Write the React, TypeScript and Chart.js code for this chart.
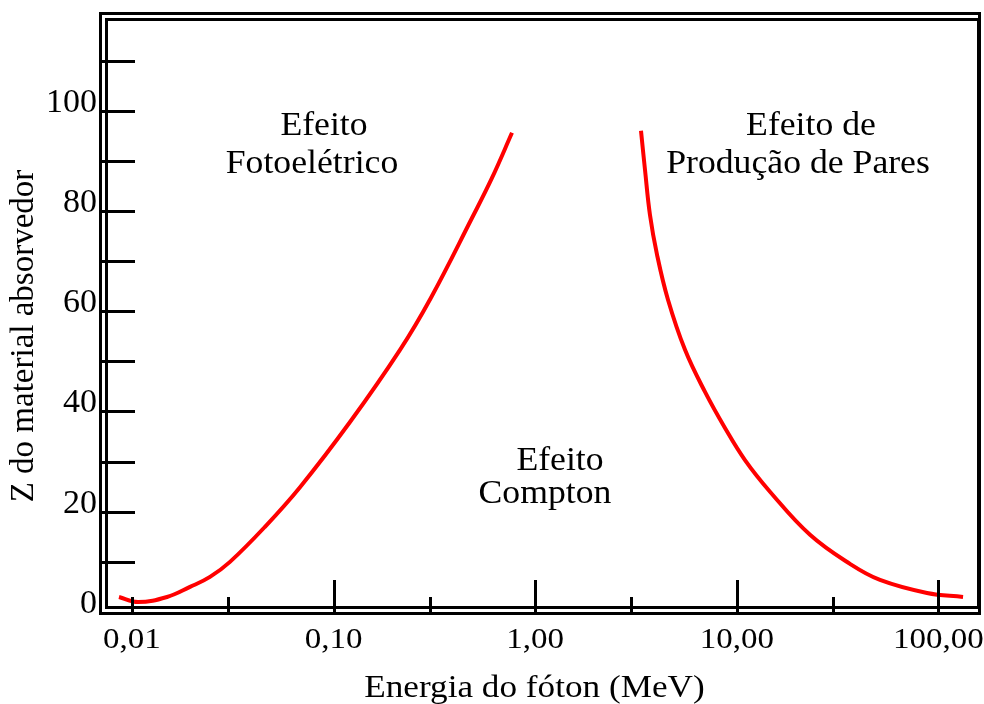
import React, { useEffect, useRef } from "react";
import { Chart, registerables } from "chart.js";

Chart.register(...registerables);

// Photoelectric / Compton boundary (energy in MeV, Z)
const peEnergy = [0.00862, 0.01071, 0.01492, 0.0194, 0.02437, 0.03062, 0.04567, 0.06814, 0.1206, 0.2135, 0.3041, 0.4858, 0.6105, 0.7672];
const peZ = [3.2, 2.2, 3.2, 5.2, 7.2, 10.2, 17.2, 25.1, 38.1, 52.5, 62.9, 78.8, 86.8, 95.8];

// Compton / pair production boundary
const ppEnergy = [3.348, 3.505, 3.71, 4.02, 4.557, 5.536, 6.957, 8.739, 10.98, 14.61, 23.08, 36.43, 51.32, 87.79, 132.5];
const ppZ = [96.2, 88.4, 79.4, 71.5, 62.5, 52.5, 44.1, 36.9, 30.5, 24.2, 15.6, 9.8, 6.6, 4.0, 3.2];

// Axis ticks
const xTickValues = [0.01, 0.03, 0.1, 0.3, 1, 3, 10, 30, 100];
const xTickMajor = [false, false, true, false, true, false, true, false, true];
const xTickLabels = ["0,01", "", "0,10", "", "1,00", "", "10,00", "", "100,00"];
const yTickValues = [10, 20, 30, 40, 50, 60, 70, 80, 90, 100, 110];
const yLabelValues = [0, 20, 40, 60, 80, 100];
const yLabelTexts = ["0", "20", "40", "60", "80", "100"];

const xTitle = "Energia do fóton (MeV)";
const yTitle = "Z do material absorvedor";

const regionLabels = [
  { text: "Efeito", cx: 324, base: 135 },
  { text: "Fotoelétrico", cx: 312, base: 173 },
  { text: "Efeito de", cx: 811, base: 135 },
  { text: "Produção de Pares", cx: 798, base: 173 },
  { text: "Efeito", cx: 560, base: 470 },
  { text: "Compton", cx: 545, base: 503 },
];

const FONT = '"Liberation Serif", "Times New Roman", serif';

function drawText(ctx: CanvasRenderingContext2D, s: string, x: number, y: number, size: number, sx: number, align: CanvasTextAlign) {
  ctx.save();
  ctx.font = `${size}px ${FONT}`;
  ctx.textAlign = align;
  ctx.textBaseline = "alphabetic";
  ctx.fillStyle = "#000";
  ctx.translate(x, y);
  ctx.scale(sx, 1);
  ctx.fillText(s, 0, 0);
  ctx.restore();
}

const decorPlugin = {
  id: "decor",
  afterDraw(chart: any) {
    const ctx: CanvasRenderingContext2D = chart.ctx;
    const a = chart.chartArea;
    const xs = chart.scales.x;
    const ys = chart.scales.y;
    ctx.save();
    ctx.strokeStyle = "#000";
    ctx.lineWidth = 3;
    // double frame
    ctx.strokeRect(a.left + 0.5, a.top + 0.5, a.right - a.left, a.bottom - a.top);
    ctx.strokeRect(a.left + 6.5, a.top + 6.5, a.right - a.left - 7, a.bottom - a.top - 12);
    // y ticks
    yTickValues.forEach((v) => {
      const py = Math.round(ys.getPixelForValue(v)) - 0.5;
      ctx.beginPath();
      ctx.moveTo(a.left, py);
      ctx.lineTo(a.left + 35, py);
      ctx.stroke();
    });
    // x ticks
    xTickValues.forEach((v, i) => {
      const px = Math.round(xs.getPixelForValue(v)) + 0.5;
      const len = xTickMajor[i] ? 33 : 16;
      ctx.beginPath();
      ctx.moveTo(px, a.bottom + 1.5);
      ctx.lineTo(px, a.bottom - len);
      ctx.stroke();
    });
    ctx.restore();
    // y labels
    yLabelValues.forEach((v, i) => {
      const py = ys.getPixelForValue(v);
      drawText(ctx, yLabelTexts[i], a.left - 3, py, 34, 1, "right");
    });
    // x labels
    xTickValues.forEach((v, i) => {
      if (!xTickLabels[i]) return;
      const px = xs.getPixelForValue(v);
      drawText(ctx, xTickLabels[i], px, a.bottom + 35, 30, 1.1, "center");
    });
    // axis titles
    drawText(ctx, xTitle, (a.left + a.right) / 2 - 5, 697, 32, 1.1, "center");
    ctx.save();
    ctx.translate(33, 336);
    ctx.rotate(-Math.PI / 2);
    drawText(ctx, yTitle, 0, 0, 33, 1, "center");
    ctx.restore();
    // region labels
    regionLabels.forEach((r) => drawText(ctx, r.text, r.cx, r.base, 34, 1.05, "center"));
  },
};

export default function App() {
  const ref = useRef<HTMLCanvasElement | null>(null);
  useEffect(() => {
    let chart: Chart | null = null;
    let cancelled = false;
    const build = () => {
      if (cancelled || !ref.current) return;
      chart = new Chart(ref.current, {
        type: "line",
        data: {
          datasets: [
            {
              label: "Fotoelétrico / Compton",
              data: peEnergy.map((e, i) => ({ x: e, y: peZ[i] })),
              borderColor: "#ff0000",
              borderWidth: 4,
              pointRadius: 0,
              tension: 0.4,
              fill: false,
            },
            {
              label: "Compton / Produção de Pares",
              data: ppEnergy.map((e, i) => ({ x: e, y: ppZ[i] })),
              borderColor: "#ff0000",
              borderWidth: 4,
              pointRadius: 0,
              tension: 0.4,
              fill: false,
            },
          ],
        },
        options: {
          responsive: false,
          devicePixelRatio: 1,
          animation: false,
          layout: { padding: { left: 100, top: 13, right: 5, bottom: 91 } },
          plugins: { legend: { display: false }, tooltip: { enabled: false }, title: { display: false } },
          scales: {
            x: { type: "logarithmic", min: 0.006939, max: 159.0, display: false },
            y: { type: "linear", min: 0, max: 119.7, display: false },
          },
        },
        plugins: [decorPlugin],
      } as any);
    };
    const fonts: any = (document as any).fonts;
    if (fonts && fonts.load) {
      fonts.load('34px "Liberation Serif"').then(build, build);
    } else {
      build();
    }
    return () => {
      cancelled = true;
      if (chart) chart.destroy();
    };
  }, []);
  return (
    <div style={{ position: "fixed", left: 0, top: 0, width: 984, height: 704, background: "#fff" }}>
      <canvas ref={ref} width={984} height={704} style={{ display: "block" }} />
    </div>
  );
}
